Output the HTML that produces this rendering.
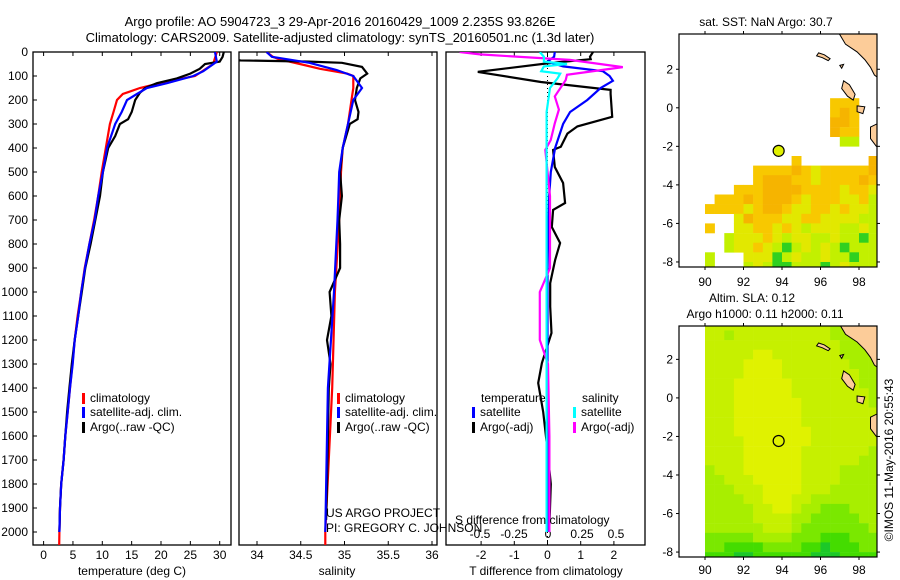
<!DOCTYPE html>
<html><head><meta charset="utf-8"><style>
html,body{margin:0;padding:0;background:#fff;}
svg{display:block;font-family:"Liberation Sans",sans-serif;}
text{font-size:12px;fill:#000;}
</style></head><body>
<svg id="fig" width="900" height="580" viewBox="0 0 900 580">
<defs>
<clipPath id="c1"><rect x="33" y="52" width="198" height="493"/></clipPath>
<clipPath id="c2"><rect x="239" y="52" width="198" height="493"/></clipPath>
<clipPath id="c3"><rect x="446" y="52" width="199" height="493"/></clipPath>
<clipPath id="m1"><rect x="679" y="34" width="198" height="233"/></clipPath>
<clipPath id="m2"><rect x="679" y="326" width="198" height="231"/></clipPath>
</defs>
<text x="340" y="26" text-anchor="middle" style="font-size:13px">Argo profile: AO 5904723_3 29-Apr-2016 20160429_1009 2.235S 93.826E</text>
<text x="340" y="42" text-anchor="middle" style="font-size:13px">Climatology: CARS2009. Satellite-adjusted climatology: synTS_20160501.nc (1.3d later)</text>
<g id="g"></g>
</svg>
<script>
// ---- profile data (depth in m) ----
const tClimDepth=[0,50,100,130,150,175,200,250,300,400,500,600,700,800,900,1000,1100,1200,1300,1400,1500,1600,1700,1800,1900,2000,2055];
const tClim=[29.5,28.9,25.8,19.8,16.4,13.5,12.5,11.9,11.3,10.6,9.9,9.3,8.6,7.8,7.0,6.4,5.8,5.3,4.9,4.5,4.1,3.7,3.4,3.0,2.8,2.7,2.65];
const tArgoDepth=[0,20,40,50,70,90,110,130,150,170,200,250,280,300,350,400,500,600,700,800,900,1000,1100,1200,1300,1400,1500,1600,1700,1800,1900,2000];
const tArgo=[30.7,30.5,30.0,27.5,26.6,25.0,22.7,19.3,17.3,16.4,15.6,15.0,14.4,13.0,12.2,11.0,10.1,9.6,8.8,8.0,7.1,6.5,5.9,5.3,4.8,4.4,4.0,3.7,3.4,3.0,2.8,2.7];
const tSatDepth=[0,40,80,100,130,150,175,200,250,300,400,500,600,700,800,900,1000,1100,1200,1300,1400,1500,1600,1700,1800,1900,2000];
const tSat=[29.2,29.5,27.2,25.5,21.0,17.6,15.9,14.2,13.3,12.2,10.8,10.1,9.3,8.7,7.8,7.05,6.4,5.9,5.3,4.95,4.5,4.1,3.7,3.4,3.0,2.8,2.7];

const sClimDepth=[0,20,30,50,70,90,100,150,200,300,400,500,600,700,1000,1400,2000,2055];
const sClim=[34.11,34.18,34.25,34.49,34.72,35.03,35.10,35.10,35.08,35.04,34.98,34.96,34.95,34.94,34.89,34.86,34.78,34.78];
const sArgoDepth=[30,35,40,45,62,90,110,150,200,250,280,300,400,500,600,700,800,900,1000,1100,1200,1300,1400,1600,1800,1950];
const sArgo=[33.8,33.8,34.6,34.97,35.2,35.26,35.18,35.14,35.12,35.16,35.15,35.06,34.98,34.95,34.97,34.94,34.95,34.95,34.83,34.85,34.80,34.84,34.82,34.81,34.80,34.79];
const sSatDepth=[0,20,45,75,100,150,200,300,400,500,600,700,1000,1400,2000];
const sSat=[34.11,34.17,34.6,34.91,35.1,35.2,35.1,35.04,34.98,34.94,34.93,34.92,34.88,34.81,34.78];

const dTArgoDepth=[0,20,30,46,83,125,158,175,270,310,340,395,408,479,546,629,658,729,796,867,963,1061,1171,1296,1379,1500,1658,1800,2000];
const dTArgo=[1.37,1.28,1.3,0.08,-2.1,-0.2,1.9,1.9,1.95,0.9,0.6,0.4,0.17,0.22,0.47,0.53,0.17,0.13,0.38,0.23,0.08,0.08,0.12,-0.17,-0.28,-0.13,0.0,0.1,0.05];
const dTSatDepth=[0,20,40,60,80,100,120,150,200,250,300,400,500,600,700,900,2000];
const dTSat=[0.22,0.2,0.0,0.47,1.67,1.87,1.97,1.6,1.2,0.68,0.47,0.23,0.1,0.05,0.03,0.0,0.0];
const dSArgoDepth=[0,10,33,63,95,117,185,240,297,367,408,600,900,1000,1050,1200,1300,1600,2000];
const dSArgo=[-0.65,-0.5,0.16,0.55,0.14,0.13,0.05,0.08,0.05,0.02,-0.02,0.015,0.015,-0.06,-0.06,-0.06,0.0,0.01,0.01];
const dSSatDepth=[0,20,40,50,60,80,90,110,150,250,2000];
const dSSat=[-0.06,-0.03,-0.03,0.14,-0.03,-0.05,0.09,0.07,0.015,-0.01,-0.01];

const depthTicks=[0,100,200,300,400,500,600,700,800,900,1000,1100,1200,1300,1400,1500,1600,1700,1800,1900,2000];
const tTicks=[0,5,10,15,20,25,30];
const sTicks=[34,34.5,35,35.5,36];
const dTTicks=[-2,-1,0,1,2];
const dSTicks=[-0.5,-0.25,0,0.25,0.5];
const dSTickLabels=["-0.5","-0.25","0","0.25","0.5"];

// ---- map data ----
const sstRows=[
".....................",".....................",".....................",".....................",
".....................",".....................",".....................",
"................aaa..","................aoa..","................ooa..","................oaa..",
".................ll..",".....................","............a.......o",
"........aaaaoayaaaaao","........aoooaayaaaaoa","......aaaooooaaaayaay","....aaaoaoooayaaayyal",
"...aaaayaooayyaayayyl","......yoaaayyaayyyyll","...a..yyaayaylyyyllyl",".....lyyyaylyyllyllgl",
".....lyyaylglylylglll","...l...yyyglyllyllgll","...l...lylgglllglylll"];
const slaRows=[
"...444444444444433333","...443444444444433333","...444444444444443333","...444445544444443333",
"...444455554444444333","...444455554444444433","...444555555444444433","...444555555444444443",
"...444555555544444443","...444555555544444444","...444555555544444444","...444555555554444444",
"...444455555554444444","...444455555544444443","...444455555544444433","...344455555544443333",
"...334445555544443333","...333444555544433333","...333344555443333333","...333334455433222333",
"...333334444332222233","...333333444322222223","...222223333222111222","...221111222211011122",
"...111001111110001111"];
const argoLon=93.826, argoLat=-2.235;
const mapLonTicks=[90,92,94,96,98];
const mapLatTicks=[2,0,-2,-4,-6,-8];

const NS="http://www.w3.org/2000/svg";
const G=document.getElementById('g');
function el(tag,attrs,parent){const e=document.createElementNS(NS,tag);for(const k in attrs)e.setAttribute(k,attrs[k]);(parent||G).appendChild(e);return e;}
function txt(x,y,s,anchor,parent){const t=el('text',{x:x,y:y,'text-anchor':anchor||'start'},parent);t.textContent=s;return t;}

const yD=d=>52+d*0.24;
const xT=v=>43.6+v*5.87;
const xS=v=>344.5+(v-35)*87.5;
const xDT=v=>547.5+v*33.2;
const xDS=v=>548+v*136;

function line(depths,vals,xf,color,clip,name){
  const pts=depths.map((d,i)=>xf(vals[i]).toFixed(1)+','+yD(d).toFixed(1)).join(' ');
  const p=el('polyline',{points:pts,fill:'none',stroke:color,'stroke-width':2.2,'clip-path':'url(#'+clip+')'});
  
  
}

const panels=[[33,231,'temperature-panel'],[239,437,'salinity-panel'],[446,645,'difference-panel']];
panels.forEach(p=>{const r=el('rect',{x:p[0],y:52,width:p[1]-p[0],height:493,fill:'none',stroke:'#000','stroke-width':1.3});
  
  });

depthTicks.forEach(d=>{
  el('line',{x1:33,x2:37,y1:yD(d),y2:yD(d),stroke:'#000'});
  const t=txt(28,yD(d)+4,String(d),'end');
  
  
});
function xticks(ticks,xf,labels,ly){
  ticks.forEach((v,i)=>{const x=xf(v);
    el('line',{x1:x,x2:x,y1:52,y2:56,stroke:'#000'});
    el('line',{x1:x,x2:x,y1:541,y2:545,stroke:'#000'});
    const t=txt(x,ly,labels?labels[i]:String(v),'middle');
    
    
  });
}
xticks(tTicks,xT,null,559);
xticks(sTicks,xS,null,559);
xticks(dTTicks,xDT,null,559);
dSTicks.forEach((v,i)=>{const t=txt(xDS(v),538,dSTickLabels[i],'middle');
  
  });

line(tClimDepth,tClim,xT,'#ff0000','c1','temp-climatology-line');
line(tArgoDepth,tArgo,xT,'#000000','c1','temp-argo-line');
line(tSatDepth,tSat,xT,'#0000ff','c1','temp-satellite-line');
line(sClimDepth,sClim,xS,'#ff0000','c2','sal-climatology-line');
line(sArgoDepth,sArgo,xS,'#000000','c2','sal-argo-line');
line(sSatDepth,sSat,xS,'#0000ff','c2','sal-satellite-line');
el('line',{x1:xDT(0),x2:xDT(0),y1:52,y2:545,stroke:'#000','stroke-dasharray':'1,3'});
line(dTArgoDepth,dTArgo,xDT,'#000000','c3','tdiff-argo-line');
line(dTSatDepth,dTSat,xDT,'#0000ff','c3','tdiff-satellite-line');
line(dSArgoDepth,dSArgo,xDS,'#ff00ff','c3','sdiff-argo-line');
line(dSSatDepth,dSSat,xDS,'#00ffff','c3','sdiff-satellite-line');

function leg(x,y,color,label,name){
  el('rect',{x:x,y:y-9,width:3,height:11,fill:color});
  const t=txt(x+8,y,label);
  
  
}
leg(82,402,'#ff0000','climatology','legend-temp-climatology');
leg(82,416,'#0000ff','satellite-adj. clim.','legend-temp-satellite');
leg(82,431,'#000000','Argo(..raw -QC)','legend-temp-argo');
leg(337,402,'#ff0000','climatology','legend-sal-climatology');
leg(337,416,'#0000ff','satellite-adj. clim.','legend-sal-satellite');
leg(337,431,'#000000','Argo(..raw -QC)','legend-sal-argo');
txt(481,402,'temperature');
txt(582,402,'salinity');
leg(472,416,'#0000ff','satellite','legend-tdiff-satellite');
leg(472,431,'#000000','Argo(-adj)','legend-tdiff-argo');
leg(573,416,'#00ffff','satellite','legend-sdiff-satellite');
leg(573,431,'#ff00ff','Argo(-adj)','legend-sdiff-argo');

txt(326,517,'US ARGO PROJECT');
txt(326,532,'PI: GREGORY C. JOHNSON');
txt(455,524,'S difference from climatology');
txt(132,575,'temperature (deg C)','middle');
txt(337,575,'salinity','middle');
txt(546,575,'T difference from climatology','middle');

const lonX=lon=>705+(lon-90)*19.25;
const lat1=lat=>107.8-lat*19.27;
const lat2=lat=>397.9-lat*19.27;
const sstCol={o:'#f6b400',a:'#f8c800',y:'#e2e800',l:'#c2f000',g:'#30d020'};
const slaCol={'0':'#1cc828','1':'#44dc00','2':'#7ae800','3':'#a8ee00','4':'#c6f000','5':'#e0f200'};
function grid(rows,cols,latf,clip,name){
  const g=el('g',{'clip-path':'url(#'+clip+')'});
  
  
  rows.forEach((r,i)=>{for(let j=0;j<r.length;j++){const c=cols[r[j]];if(!c)continue;
    const lonL=88.5+0.5*j, latT=4-0.5*i;
    el('rect',{x:lonX(lonL).toFixed(1),y:latf(latT).toFixed(1),width:9.9,height:9.9,fill:c},g);}});
  return g;
}
function land(latf,clip){
  const g=el('g',{'clip-path':'url(#'+clip+')',fill:'#fccc99',stroke:'#000','stroke-width':1});
  const polys=[
   [[96.6,4.2],[97.0,3.8],[97.3,3.3],[97.9,2.9],[98.3,2.5],[98.6,2.1],[98.8,1.7],[99.2,1.4],[99.2,4.2]],
   [[98.6,-1.0],[98.9,-0.85],[99.2,-0.8],[99.2,-2.2],[98.9,-2.0],[98.6,-1.6]],
   [[95.9,2.85],[96.2,2.75],[96.5,2.55],[96.4,2.45],[96.1,2.6],[95.8,2.7]],
   [[97.2,1.4],[97.5,1.2],[97.8,0.7],[97.7,0.4],[97.4,0.6],[97.1,1.0]],
   [[97.9,0.1],[98.3,0.05],[98.2,-0.3],[97.9,-0.2]],
   [[97.0,2.2],[97.2,2.25],[97.1,2.05]]
  ];
  polys.forEach(p=>el('polygon',{points:p.map(q=>lonX(q[0]).toFixed(1)+','+latf(q[1]).toFixed(1)).join(' ')},g));
  return g;
}
function mapFrame(top,h,latf,ly,name){
  const r=el('rect',{x:679,y:top,width:198,height:h,fill:'none',stroke:'#000','stroke-width':1.2});
  
  
  mapLonTicks.forEach(v=>{const x=lonX(v);
    el('line',{x1:x,x2:x,y1:top-3,y2:top,stroke:'#000'});
    el('line',{x1:x,x2:x,y1:top+h,y2:top+h+3,stroke:'#000'});
    txt(x,ly,String(v),'middle');});
  mapLatTicks.forEach(v=>{const y=latf(v);
    el('line',{x1:676,x2:679,y1:y,y2:y,stroke:'#000'});
    el('line',{x1:877,x2:880,y1:y,y2:y,stroke:'#000'});
    txt(673,y+4,String(v),'end');});
}
grid(sstRows,sstCol,lat1,'m1','sst-map-cells');
land(lat1,'m1');
const c1=el('circle',{cx:lonX(argoLon),cy:lat1(argoLat),r:5.5,fill:'#e0f000',stroke:'#000','stroke-width':1.2});


mapFrame(34,233,lat1,286,'sst-map');
txt(766,26,'sat. SST: NaN Argo: 30.7','middle');

grid(slaRows,slaCol,lat2,'m2','sla-map-cells');
land(lat2,'m2');
const c2=el('circle',{cx:lonX(argoLon),cy:lat2(argoLat),r:5.5,fill:'none',stroke:'#000','stroke-width':1.2});


mapFrame(326,231,lat2,574,'sla-map');
txt(752,302,'Altim. SLA: 0.12','middle');
txt(765,318,'Argo h1000: 0.11 h2000: 0.11','middle');
const cp=txt(0,0,'©IMOS 11-May-2016 20:55:43','middle');
cp.setAttribute('transform','translate(893,460) rotate(-90)');


</script>
</body></html>
